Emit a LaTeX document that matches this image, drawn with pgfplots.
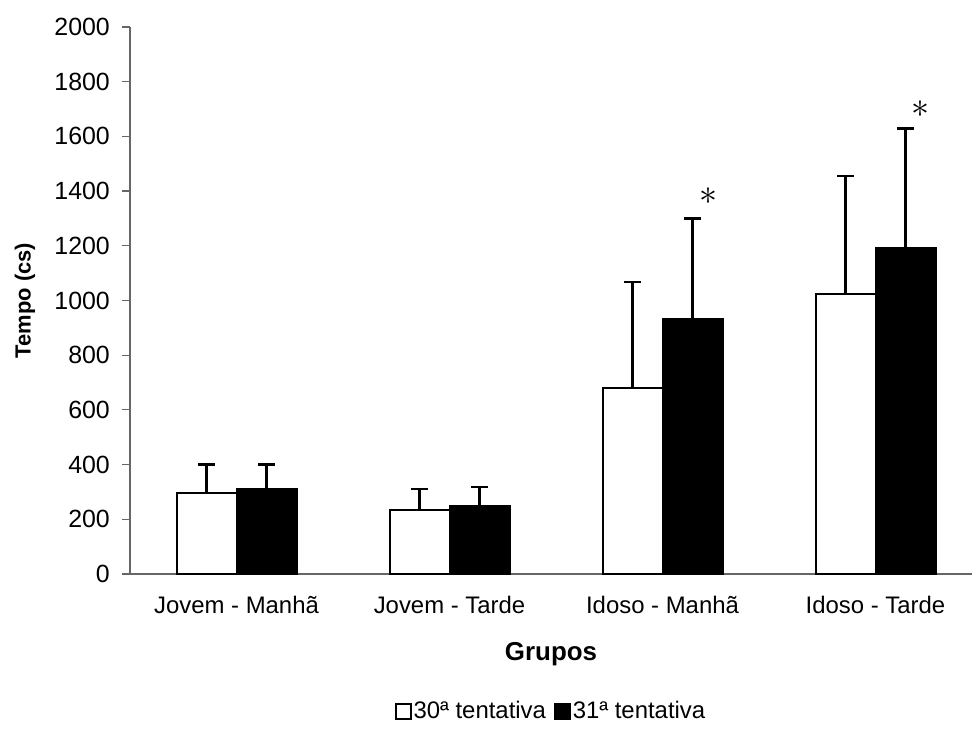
\documentclass[border=0pt]{standalone}
\usepackage{fontspec}
\setmainfont{Liberation Sans}
\usepackage{pgfplots}
\pgfplotsset{compat=1.18}
\begin{document}
\fontsize{24}{28}\selectfont
\begin{tikzpicture}
\path[use as bounding box] (-130bp,-157bp) rectangle (842bp,574bp);
\begin{axis}[
  at={(0,0)}, anchor=south west,
  scale only axis, width=842bp, height=547bp,
  xmin=-0.5, xmax=3.453, ymin=0, ymax=2000,
  ytick={0,200,...,2000},
  xtick={0,1,2,3},
  xticklabels={Jovem - Manhã, Jovem - Tarde, Idoso - Manhã, Idoso - Tarde},
  major x tick style={draw=none},
  axis x line*=bottom, axis y line*=left,
  axis line style={black!60, line width=1.2bp},
  y tick style={black!60, line width=1.2bp},
  tick align=outside, major tick length=8bp,
  ybar=0pt, bar width=60bp,
  /pgf/number format/assume math mode=true,
  /pgf/number format/1000 sep={},
  yticklabel style={font=\fontsize{25}{28}\selectfont, xshift=-4bp},
  xticklabel style={font=\fontsize{24}{28}\selectfont, yshift=-6bp},
  xlabel={\textbf{Grupos}},
  ylabel={\textbf{Tempo (cs)}},
  xlabel style={font=\fontsize{26}{30}\selectfont, at={(axis description cs:0.5,-0.146)}, anchor=center},
  ylabel style={font=\fontsize{22}{26}\selectfont, at={(axis description cs:-0.1247,0.5)}, anchor=center},
  legend columns=2,
  legend style={at={(axis description cs:0.5,-0.252)}, anchor=center, draw=none,
    font=\fontsize{24}{28}\selectfont, inner sep=0pt,
    /tikz/every even column/.append style={column sep=6bp}},
  legend image code/.code={\draw[#1, line width=1.8bp] (0bp,-7bp) rectangle (15bp,8bp);},
  error bars/y dir=plus, error bars/y explicit,
  error bars/error bar style={line width=2.5bp, black},
  error bars/error mark options={rotate=90, mark size=8.5bp, line width=2.5bp, black},
]
\addplot+[fill=white, draw=black, line width=2bp] coordinates {
  (0,295) +- (0,105)
  (1,234) +- (0,77)
  (2,680) +- (0,387)
  (3,1023) +- (0,432)
};
\addplot+[fill=black, draw=black, line width=2bp] coordinates {
  (0,311) +- (0,89)
  (1,248) +- (0,70)
  (2,934) +- (0,365)
  (3,1193) +- (0,435)
};
\legend{30ª tentativa, 31ª tentativa}
\node[scale=1.45] at (axis cs:2.214,1383) {$\ast$};
\node[scale=1.45] at (axis cs:3.209,1700) {$\ast$};
\end{axis}
\end{tikzpicture}
\end{document}
